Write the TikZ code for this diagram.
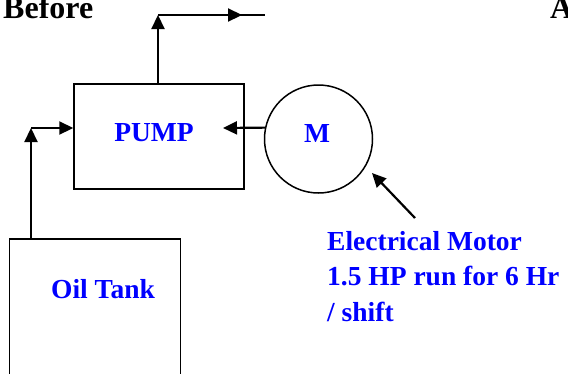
\documentclass[tikz,border=0pt]{standalone}
\usepackage{fontspec}
\setmainfont{Liberation Serif}
\usepackage{tikz}
\usetikzlibrary{positioning,arrows.meta}
\newcommand{\diagfont}{\fontsize{27.5}{35.5}\selectfont\bfseries}
\newcommand{\titlefont}{\fontsize{32}{38}\selectfont\bfseries}

\begin{document}
\begin{tikzpicture}[x=1pt,y=-1pt,
		box/.style={draw,line width=1.5pt,rectangle,inner sep=0pt},
		pipe/.style={line width=2.2pt},
		tip/.style={-{Triangle[length=14pt,width=13pt]}},
		lbl/.style={font=\diagfont,text=blue,inner sep=0pt}]
	\useasboundingbox (0,0) rectangle (568,373);
	% titles
	\node[font=\titlefont,inner sep=0pt,anchor=base west] (before) at (3,18) {Before};
	\node[font=\titlefont,inner sep=0pt,anchor=base west] (after) at (550,18) {A};
	% equipment
	\node[box,minimum width=170pt,minimum height=105pt] (pump) at (159,136.5) {};
	\node[lbl] (pumptxt) at (154,133) {PUMP};
	\node[draw,line width=1.5pt,circle,minimum size=108pt,inner sep=0pt] (motor) at (318.5,139) {};
	\node[lbl] (motortxt) at (317,133) {M};
	\node[box,minimum width=171pt,minimum height=136pt] (tank) at (95,307) {};
	\node[lbl] (tanktxt) at (103,289) {Oil Tank};
	\node[lbl,align=left,anchor=north west] (note) at (327,231) {Electrical Motor\\1.5 HP run for 6 Hr\\/ shift};
	% pipes
	\coordinate (inbend) at (31,128);
	\draw[pipe,tip] (inbend |- tank.north) -- (inbend);
	\draw[pipe,tip] (inbend) -- (inbend -| pump.west);
	\coordinate (outbend) at (158,15);
	\coordinate (outmid) at (242,15);
	\coordinate (outend) at (265,15);
	\draw[pipe,tip] (pump.north -| outbend) -- (outbend);
	\draw[pipe] (outbend) -- (outend);
	\draw[pipe,tip] (outbend) -- (outmid);
	% drive and pointer
	\coordinate (drive) at (223,128);
	\draw[pipe,tip] (motor.168) -- (drive);
	\coordinate (pointer) at (415,218);
	\draw[pipe,tip] (pointer) -- (372,173);
\end{tikzpicture}
\end{document}
